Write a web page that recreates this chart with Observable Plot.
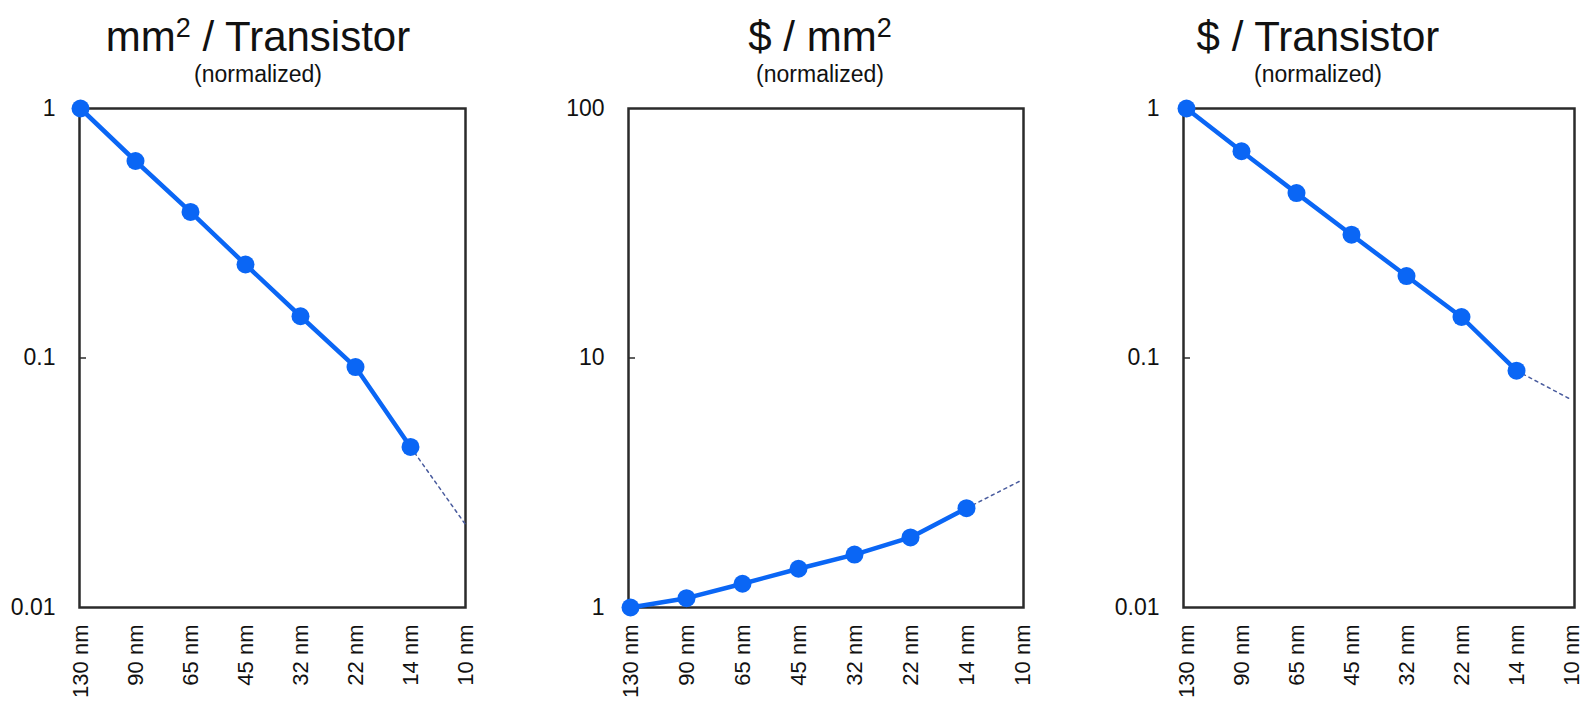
<!DOCTYPE html>
<html>
<head>
<meta charset="utf-8">
<script src="https://cdn.jsdelivr.net/npm/d3@7"></script>
<script src="https://cdn.jsdelivr.net/npm/@observablehq/plot@0.6"></script>
<style>
  html, body { margin: 0; padding: 0; background: #fff; overflow: hidden; }
  body { width: 1593px; height: 706px; position: relative; font-family: "Liberation Sans", Arial, sans-serif; color: #111; }
  .title { position: absolute; width: 500px; text-align: center; white-space: nowrap; }
  .title .main { position: absolute; left: 0; right: 0; top: 13px; font-size: 42px; line-height: 48px; }
  .title .main sup { font-size: 27px; vertical-align: 0; position: relative; top: -14px; }
  .title .sub { position: absolute; left: 0; right: 0; top: 60px; font-size: 23px; line-height: 28px; }
  .panel { position: absolute; top: 90px; }
  .panel svg g[aria-label="y-axis tick label"] text { font-size: 23px; }
  .panel svg g[aria-label="x-axis tick label"] text { font-size: 22px; }
</style>
</head>
<body>
<script>
// Process nodes along the x axis
const nodes = ["130 nm", "90 nm", "65 nm", "45 nm", "32 nm", "22 nm", "14 nm", "10 nm"];

// mm² per transistor (normalized to 130 nm), measured through 14 nm
const areaPerTransistor = [1, 0.616, 0.385, 0.237, 0.147, 0.092, 0.044];
const areaProjected10 = 0.0215;

// $ per mm² (normalized)
const costPerArea = [1, 1.09, 1.245, 1.43, 1.63, 1.91, 2.5];
const costPerAreaProjected10 = 3.25;

// $ per transistor (normalized)
const costPerTransistor = [1, 0.674, 0.458, 0.312, 0.213, 0.146, 0.089];
const costPerTransistorProjected10 = 0.068;

// Y tick values and their labels
const ticksFraction = [1, 0.1, 0.01];
const ticksFractionLabels = ["1", "0.1", "0.01"];
const ticksMultiple = [1, 10, 100];
const ticksMultipleLabels = ["1", "10", "100"];

const BLUE = "#0a66f5";
const FRAME = "#2b2b2b";
const MARGIN_LEFT = 70;
const TICK_LEN = 7;

function addTitle(html, centerX) {
  const div = document.createElement("div");
  div.className = "title";
  div.style.left = (centerX - 250) + "px";
  div.innerHTML = `<div class="main">${html}</div><div class="sub">(normalized)</div>`;
  document.body.appendChild(div);
}

function addPanel({values, projected, domain, ticks, tickLabels, left, width, marginRight}) {
  const measured = values.map((v, i) => ({node: nodes[i], value: v}));
  const extension = [
    {node: nodes[values.length - 1], value: values[values.length - 1]},
    {node: nodes[values.length], value: projected}
  ];
  const labelOf = new Map(ticks.map((t, i) => [t, tickLabels[i]]));
  const frameWidth = width - MARGIN_LEFT - marginRight;

  const chart = Plot.plot({
    width,
    height: 616,
    marginTop: 18,
    marginBottom: 99,
    marginLeft: MARGIN_LEFT,
    marginRight,
    style: {background: "transparent", fontFamily: "'Liberation Sans', Arial, sans-serif", color: "#111", overflow: "visible"},
    x: {type: "point", domain: nodes, padding: 0},
    y: {type: "log", domain},
    marks: [
      Plot.frame({stroke: FRAME, strokeWidth: 2.5}),
      Plot.axisY(ticks, {tickSize: 0, tickPadding: 24, tickFormat: d => labelOf.get(d), label: null, fontSize: 23}),
      // short inward tick on the left edge for the middle decade
      Plot.tickY(ticks.slice(1, -1), {y: d => d, insetRight: frameWidth - TICK_LEN, stroke: FRAME, strokeWidth: 1.5}),
      Plot.axisX({tickSize: 0, tickPadding: 17, tickRotate: -90, label: null, fontSize: 22}),
      Plot.line(extension, {x: "node", y: "value", stroke: "#4a5c9e", strokeWidth: 1.5, strokeDasharray: "3,4"}),
      Plot.line(measured, {x: "node", y: "value", stroke: BLUE, strokeWidth: 4.5}),
      Plot.dot(measured, {x: "node", y: "value", r: 9, fill: BLUE, stroke: "none"})
    ]
  });
  const wrap = document.createElement("div");
  wrap.className = "panel";
  wrap.style.left = left + "px";
  wrap.appendChild(chart);
  document.body.appendChild(wrap);
}

addTitle("mm<sup>2</sup> / Transistor", 258);
addTitle("$ / mm<sup>2</sup>", 820);
addTitle("$ / Transistor", 1318);

addPanel({values: areaPerTransistor, projected: areaProjected10, domain: [0.01, 1],
  ticks: ticksFraction, tickLabels: ticksFractionLabels, left: 9, width: 476, marginRight: 20});
addPanel({values: costPerArea, projected: costPerAreaProjected10, domain: [1, 100],
  ticks: ticksMultiple, tickLabels: ticksMultipleLabels, left: 558, width: 485, marginRight: 20});
addPanel({values: costPerTransistor, projected: costPerTransistorProjected10, domain: [0.01, 1],
  ticks: ticksFraction, tickLabels: ticksFractionLabels, left: 1113, width: 480, marginRight: 19});
</script>
</body>
</html>
